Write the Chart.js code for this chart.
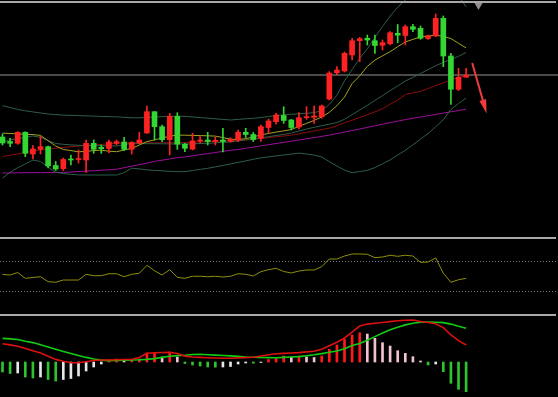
<!DOCTYPE html>
<html>
<head>
<meta charset="utf-8">
<script src="https://cdn.jsdelivr.net/npm/chart.js@4.4.0/dist/chart.umd.min.js"></script>
<style>
  html, body { margin: 0; padding: 0; background: #000; }
  body { width: 558px; height: 397px; position: relative; overflow: hidden; }
  .pane { position: absolute; left: 0; width: 558px; }
  .sep { position: absolute; left: 0; width: 556px; height: 2px; background: #a8a8a8; }
</style>
</head>
<body>
<div class="pane" style="top:0;height:237px"><canvas id="kline"></canvas></div>
<div class="pane" style="top:239px;height:75px"><canvas id="rsi"></canvas></div>
<div class="pane" style="top:316px;height:81px"><canvas id="macd"></canvas></div>
<div class="sep" style="top:1px"></div>
<div class="sep" style="top:237px"></div>
<div class="sep" style="top:314px"></div>
<script>
// daily bars, oldest first
let open  = [16.30,15.85,15.67,16.77,14.60,15.07,15.33,13.45,13.13,14.10, 14.05,14.00,15.67,15.27,15.15,15.67,15.80,15.07,15.70,16.70,
             18.83,17.33,16.03,18.37,15.58,15.10,15.90,16.00,15.85,16.00, 15.87,16.00,16.77,16.55,16.17,17.25,17.83,18.45,18.00,17.30,
             18.23,18.27,18.33,20.10,22.73,22.90,24.50,25.93,26.17,25.93, 25.47,25.63,26.67,26.45,27.33,27.17,26.15,26.40,28.17,24.40,
             21.07,22.28];
let high  = [16.60,16.17,16.83,16.83,15.43,16.37,15.40,13.85,14.20,14.50, 15.00,16.00,16.00,15.50,16.00,16.00,16.27,15.83,16.77,19.40,
             18.83,17.50,18.67,18.73,15.67,16.67,16.33,16.77,16.27,17.17, 16.23,17.00,17.17,16.77,17.50,18.10,18.67,19.33,18.07,18.73,
             19.33,19.40,19.50,22.83,23.33,24.80,26.17,26.27,26.50,26.50, 26.00,26.83,27.55,27.50,27.57,27.40,26.50,28.60,28.40,24.67,
             23.17,23.17];
let low   = [15.50,15.33,15.57,14.33,14.10,14.60,13.20,12.95,12.95,13.50, 13.70,12.75,14.67,14.67,14.70,15.50,14.93,14.60,15.60,16.67,
             16.00,15.83,14.50,15.07,14.83,15.00,15.70,15.50,15.50,14.80, 15.80,15.83,16.25,15.85,15.85,16.67,17.58,17.67,17.00,17.10,
             18.07,17.67,18.17,20.00,22.50,22.80,24.00,23.83,25.50,24.67, 25.00,25.50,25.73,25.50,26.83,26.07,26.07,26.33,23.33,19.55,
             20.93,22.27];
let close = [15.70,15.67,16.77,14.67,15.10,15.33,13.40,13.10,14.05,14.00, 14.15,15.67,15.07,15.13,15.80,15.83,15.07,15.75,16.00,18.83,
             17.33,16.03,18.37,15.58,15.17,15.90,16.00,15.85,15.97,15.85, 16.07,16.77,16.55,16.05,17.33,17.90,18.50,17.95,17.25,18.23,
             18.33,18.40,19.40,22.70,23.00,24.67,25.93,26.13,26.00,25.45, 25.73,26.73,26.48,27.33,27.07,26.17,26.42,28.17,24.40,21.07,
             22.27,22.50];

let bollUpper = [19.44,19.25,19.06,18.92,18.81,18.70,18.60,18.54,18.49,18.46, 18.44,18.41,18.39,18.36,18.34,18.31,18.27,18.22,18.22,18.26,
                 18.30,18.33,18.36,18.39,18.36,18.30,18.24,18.18,18.12,18.06, 18.00,18.06,18.12,18.17,18.25,18.35,18.45,18.52,18.57,18.62,
                 18.68,18.73,18.94,19.55,20.48,21.91,23.05,24.16,25.11,26.27, 27.34,28.39,29.29,29.99,30.60,31.20,31.32,31.44,31.37,31.00,
                 30.45,29.30];
let bollMid   = [15.81,16.01,16.14,16.26,16.40,16.27,15.94,15.65,15.57,15.51, 15.47,15.45,15.44,15.43,15.42,15.40,15.50,15.70,15.66,15.63,
                 15.63,15.62,15.61,15.61,15.60,15.62,15.65,15.67,15.71,15.76, 15.80,15.91,16.01,16.12,16.23,16.33,16.45,16.55,16.70,16.90,
                 17.10,17.27,17.43,17.58,17.74,18.07,18.53,19.00,19.47,19.96, 20.44,20.93,21.41,21.90,22.26,22.65,23.04,23.43,23.77,24.06,
                 24.37,24.76];
let bollLower = [12.19,12.78,13.23,13.61,13.99,13.85,13.29,12.77,12.65,12.57, 12.51,12.50,12.50,12.50,12.50,12.50,12.74,13.18,13.11,13.01,
                 12.96,12.92,12.87,12.83,12.84,12.95,13.06,13.17,13.31,13.46, 13.61,13.76,13.91,14.07,14.21,14.31,14.41,14.50,14.59,14.69,
                 14.60,14.49,14.30,13.84,13.40,12.99,12.73,12.85,12.96,13.24, 13.62,14.01,14.50,14.97,15.52,16.09,16.66,17.32,18.04,19.05,
                 19.65,20.20];
let maFast = [16.69,16.65,16.61,16.57,16.54,16.46,15.93,15.40,15.05,14.94, 14.82,14.86,14.94,14.98,14.88,14.83,15.00,15.17,15.49,15.84,
              16.01,16.20,16.38,16.49,16.48,16.46,16.44,16.42,16.39,16.24, 16.09,16.04,16.14,16.30,16.52,16.65,16.79,16.91,17.05,17.36,
              17.66,17.96,18.30,18.76,19.43,20.29,21.64,22.42,23.36,23.99, 24.42,24.83,25.33,25.81,26.06,26.31,26.40,26.49,26.35,26.15,
              25.67,25.21];
let maMid  = [14.34,14.48,14.61,14.74,14.88,15.01,15.09,15.17,15.26,15.33, 15.39,15.45,15.50,15.56,15.62,15.67,15.70,15.70,15.71,15.71,
              15.72,15.72,15.73,15.73,15.75,15.78,15.81,15.84,15.87,15.90, 15.93,15.97,15.99,16.07,16.15,16.24,16.32,16.40,16.48,16.61,
              16.76,16.90,17.04,17.19,17.44,17.71,17.97,18.25,18.53,18.81, 19.14,19.57,19.99,20.55,20.71,20.86,21.15,21.43,21.71,22.03,
              22.25,22.47];
let maSlow = [12.70,12.71,12.72,12.73,12.73,12.74,12.74,12.75,12.76,12.80, 12.85,12.89,12.93,12.98,13.02,13.07,13.23,13.38,13.54,13.69,
              13.86,13.98,14.11,14.23,14.31,14.42,14.53,14.64,14.75,14.86, 14.97,15.05,15.17,15.29,15.41,15.53,15.65,15.76,15.88,16.00,
              16.12,16.24,16.36,16.49,16.64,16.79,16.95,17.10,17.26,17.42, 17.57,17.73,17.88,18.04,18.17,18.30,18.43,18.56,18.69,18.82,
              18.95,19.08];
let priceLevel = 22.5;

let rsi = [52.7,52.0,55.3,47.6,48.7,49.7,43.1,42.3,45.3,45.3, 45.3,52.9,51.1,51.1,53.7,53.7,49.7,52.9,54.3,64.9,
           57.7,52.0,59.1,48.9,47.6,50.3,50.3,49.7,50.3,49.3, 50.3,53.7,52.9,50.7,56.4,59.1,60.9,56.7,54.7,57.3,
           58.7,58.7,63.1,73.3,73.3,77.3,80.0,80.0,79.6,75.1, 76.0,78.3,76.9,78.3,77.3,68.9,69.3,74.7,54.3,42.3,
           45.7,47.6];
let rsiLevels = [70, 30];

let dif = [0.183,0.171,0.158,0.135,0.113,0.091,0.058,0.026,0.007,-0.007, -0.007,0.003,0.015,0.020,0.020,0.022,0.025,0.028,0.045,0.087,
           0.092,0.095,0.097,0.085,0.059,0.050,0.046,0.043,0.040,0.038, 0.038,0.041,0.044,0.047,0.060,0.072,0.083,0.086,0.090,0.094,
           0.101,0.107,0.127,0.163,0.198,0.240,0.298,0.359,0.379,0.387, 0.395,0.404,0.413,0.418,0.420,0.405,0.395,0.383,0.344,0.270,
           0.213,0.170];
let dea = [0.236,0.231,0.225,0.208,0.194,0.172,0.149,0.127,0.106,0.086, 0.066,0.046,0.030,0.019,0.014,0.015,0.017,0.020,0.022,0.026,
           0.034,0.046,0.058,0.064,0.068,0.075,0.077,0.073,0.069,0.065, 0.061,0.056,0.050,0.047,0.045,0.044,0.043,0.046,0.050,0.054,
           0.063,0.072,0.084,0.097,0.110,0.133,0.165,0.184,0.218,0.254, 0.289,0.322,0.348,0.371,0.387,0.397,0.399,0.398,0.394,0.379,
           0.358,0.337];
let macdHist = [-0.100,-0.115,-0.110,-0.150,-0.160,-0.150,-0.175,-0.190,-0.175,-0.165, -0.140,-0.090,-0.050,-0.020,0.020,0.030,0.020,0.025,0.030,0.090,
                0.095,0.050,0.100,0.050,-0.015,-0.030,-0.040,-0.050,-0.052,-0.050, -0.045,-0.020,-0.010,-0.012,-0.005,0.025,0.035,0.060,0.050,0.060,
                0.050,0.045,0.060,0.127,0.170,0.227,0.270,0.293,0.280,0.237, 0.193,0.160,0.113,0.087,0.053,0.010,-0.030,-0.020,-0.097,-0.213,
                -0.273,-0.297];

// hand-drawn arrow and the top marker, in bar index / price units
let arrowFrom = [61.8, 23.7];
let arrowTo = [63.7, 18.65];
let marker = [62.63, 29.5];

const UP = '#ff2222';
const DOWN = '#33d633';
const xMin = -0.33, xMax = 73.09;

function pts(arr) {
    return arr.map((v, i) => ({x: i, y: v}));
}

function lineSet(arr, color, width) {
    return {type: 'line', data: pts(arr), borderColor: color, borderWidth: width || 1,
            pointRadius: 0, fill: false, tension: 0};
}

function xAxis() {
    return {type: 'linear', min: xMin, max: xMax, display: false, offset: false};
}

let baseOpts = {
    responsive: true,
    maintainAspectRatio: false,
    animation: false,
    events: [],
    layout: {padding: 0, autoPadding: false},
    plugins: {legend: {display: false}, tooltip: {enabled: false}}
};

let bodies = [], wicks = [], candleColors = [];
for (let i = 0; i < open.length; i++) {
    bodies.push({x: i, y: [open[i], close[i]]});
    wicks.push({x: i, y: [low[i], high[i]]});
    candleColors.push(close[i] > open[i] ? UP : DOWN);
}

const arrowPlugin = {
    id: 'arrow',
    afterDatasetsDraw(chart) {
        let xs = chart.scales.x, ys = chart.scales.y, ctx = chart.ctx;
        let x1 = xs.getPixelForValue(arrowFrom[0]), y1 = ys.getPixelForValue(arrowFrom[1]);
        let x2 = xs.getPixelForValue(arrowTo[0]), y2 = ys.getPixelForValue(arrowTo[1]);
        let a = Math.atan2(y2 - y1, x2 - x1);
        let c = Math.cos(a), s = Math.sin(a);
        ctx.save();
        ctx.strokeStyle = '#ef3b3b';
        ctx.fillStyle = '#ef3b3b';
        ctx.lineWidth = 2;
        ctx.beginPath();
        ctx.moveTo(x1, y1);
        ctx.lineTo(x2 - 10 * c, y2 - 10 * s);
        ctx.stroke();
        ctx.beginPath();
        ctx.moveTo(x2, y2);
        ctx.lineTo(x2 - 14 * c + 3.5 * s, y2 - 14 * s - 3.5 * c);
        ctx.lineTo(x2 - 14 * c - 3.5 * s, y2 - 14 * s + 3.5 * c);
        ctx.closePath();
        ctx.fill();
        ctx.restore();
    }
};

new Chart(document.getElementById('kline'), {
    type: 'bar',
    data: {
        datasets: [
            {data: bodies, backgroundColor: candleColors, barThickness: 5, grouped: false, borderWidth: 0},
            {data: wicks, backgroundColor: candleColors, barThickness: 1, grouped: false, borderWidth: 0},
            lineSet(maFast, '#a3a31f'),
            lineSet(bollUpper, '#2d5e48'),
            lineSet(bollMid, '#2d5e48'),
            lineSet(bollLower, '#2d5e48'),
            lineSet(maMid, '#8e0c0c'),
            lineSet(maSlow, '#9c109c'),
            {type: 'line', data: [{x: xMin, y: priceLevel}, {x: xMax, y: priceLevel}],
             borderColor: '#4a4a4a', borderWidth: 2, pointRadius: 0},
            {type: 'line', data: [{x: marker[0], y: marker[1]}], showLine: false, clip: false,
             pointStyle: 'triangle', rotation: 180, pointRadius: 5, borderWidth: 0,
             backgroundColor: '#8f8f8f'}
        ]
    },
    options: Object.assign({}, baseOpts, {
        scales: {x: xAxis(), y: {min: 6.3, max: 30, display: false}}
    }),
    plugins: [arrowPlugin]
});

new Chart(document.getElementById('rsi'), {
    type: 'line',
    data: {
        datasets: [
            lineSet(rsi, '#8f8f0c'),
            {data: [{x: xMin, y: rsiLevels[0]}, {x: xMax, y: rsiLevels[0]}], borderColor: '#7c7c7c',
             borderWidth: 1, borderDash: [1, 2], pointRadius: 0},
            {data: [{x: xMin, y: rsiLevels[1]}, {x: xMax, y: rsiLevels[1]}], borderColor: '#7c7c7c',
             borderWidth: 1, borderDash: [1, 2], pointRadius: 0}
        ]
    },
    options: Object.assign({}, baseOpts, {
        scales: {x: xAxis(), y: {min: 0, max: 100, display: false}}
    })
});

let histColors = [];
for (let i = 0; i < macdHist.length; i++) {
    let v = macdHist[i], prev = i > 0 ? macdHist[i - 1] : 0;
    if (v >= 0) histColors.push(v >= prev ? '#ff1a1a' : '#f4c2cc');
    else histColors.push(v <= prev ? '#2ec42e' : '#e6e6e6');
}

new Chart(document.getElementById('macd'), {
    type: 'bar',
    data: {
        datasets: [
            lineSet(dif, '#dd1010', 1.6),
            lineSet(dea, '#12cc12', 1.6),
            {data: pts(macdHist), backgroundColor: histColors, barThickness: 2, grouped: false, borderWidth: 0}
        ]
    },
    options: Object.assign({}, baseOpts, {
        scales: {x: xAxis(), y: {min: -0.35, max: 0.46, display: false}}
    })
});
</script>
</body>
</html>
